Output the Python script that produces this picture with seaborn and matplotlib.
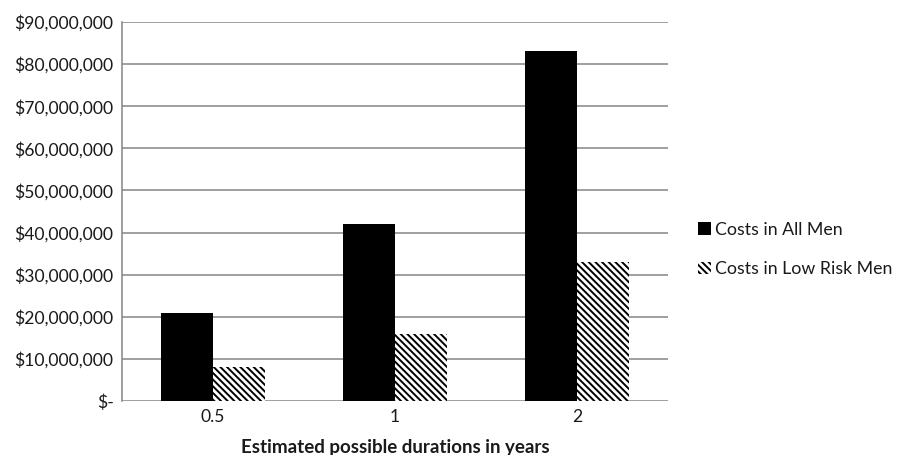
import matplotlib
matplotlib.use("Agg")
import matplotlib.pyplot as plt
import seaborn as sns
import pandas as pd
from matplotlib.patches import Patch
from matplotlib.ticker import FuncFormatter

durations = ["0.5", "1", "2"]
series = ["Costs in All Men", "Costs in Low Risk Men"]
all_men = [21_000_000, 42_000_000, 83_000_000]
low_risk = [8_000_000, 16_000_000, 33_000_000]
yticks = [0, 10_000_000, 20_000_000, 30_000_000, 40_000_000, 50_000_000,
          60_000_000, 70_000_000, 80_000_000, 90_000_000]

df = pd.DataFrame({
    "duration": durations * 2,
    "cost": all_men + low_risk,
    "series": [series[0]] * 3 + [series[1]] * 3,
})

sns.set_theme(style="white")
plt.rcParams["font.family"] = ["Lato", "DejaVu Sans"]
plt.rcParams["hatch.linewidth"] = 1.4

HATCH = "\\" * 5

fig = plt.figure(figsize=(8.99, 4.55), dpi=100)
ax = fig.add_axes([0.1357, 0.1187, 0.6073, 0.8329])

sns.barplot(data=df, x="duration", y="cost", hue="series", order=durations,
            hue_order=series, palette=["black", "white"], width=0.575,
            gap=0, ax=ax, legend=False, linewidth=0, saturation=1)

for bar in ax.containers[1]:
    bar.set_hatch(HATCH)
    bar.set_edgecolor("black")
    bar.set_linewidth(0)

ax.set_ylim(0, 90_000_000)
ax.set_xlim(-0.5, 2.5)
ax.set_yticks(yticks)
ax.yaxis.set_major_formatter(FuncFormatter(
    lambda v, p: "$-" if v == 0 else "${:,.0f}".format(v)))
ax.grid(axis="y", color="#858585", linewidth=1.1)
ax.set_axisbelow(True)
for s in ["top", "right", "bottom"]:
    ax.spines[s].set_visible(False)
ax.spines["left"].set_color("#858585")
ax.spines["left"].set_linewidth(1.1)
ax.tick_params(axis="both", length=0, labelsize=12.6, colors="#1a1a1a", pad=6)
ax.set_ylabel("")
ax.set_xlabel("Estimated possible durations in years", fontsize=13.5,
              fontweight="bold", color="#1a1a1a", labelpad=10)

handles = [
    Patch(facecolor="black", edgecolor="black", linewidth=0),
    Patch(facecolor="white", edgecolor="black", hatch=HATCH, linewidth=0),
]
fig.legend(handles, series, loc="center left", bbox_to_anchor=(0.759, 0.452),
           frameon=False, fontsize=12.8, handlelength=0.7, handleheight=0.7,
           handletextpad=0.25, labelspacing=1.32, labelcolor="#1a1a1a")

fig.savefig("out.png", dpi=100)
